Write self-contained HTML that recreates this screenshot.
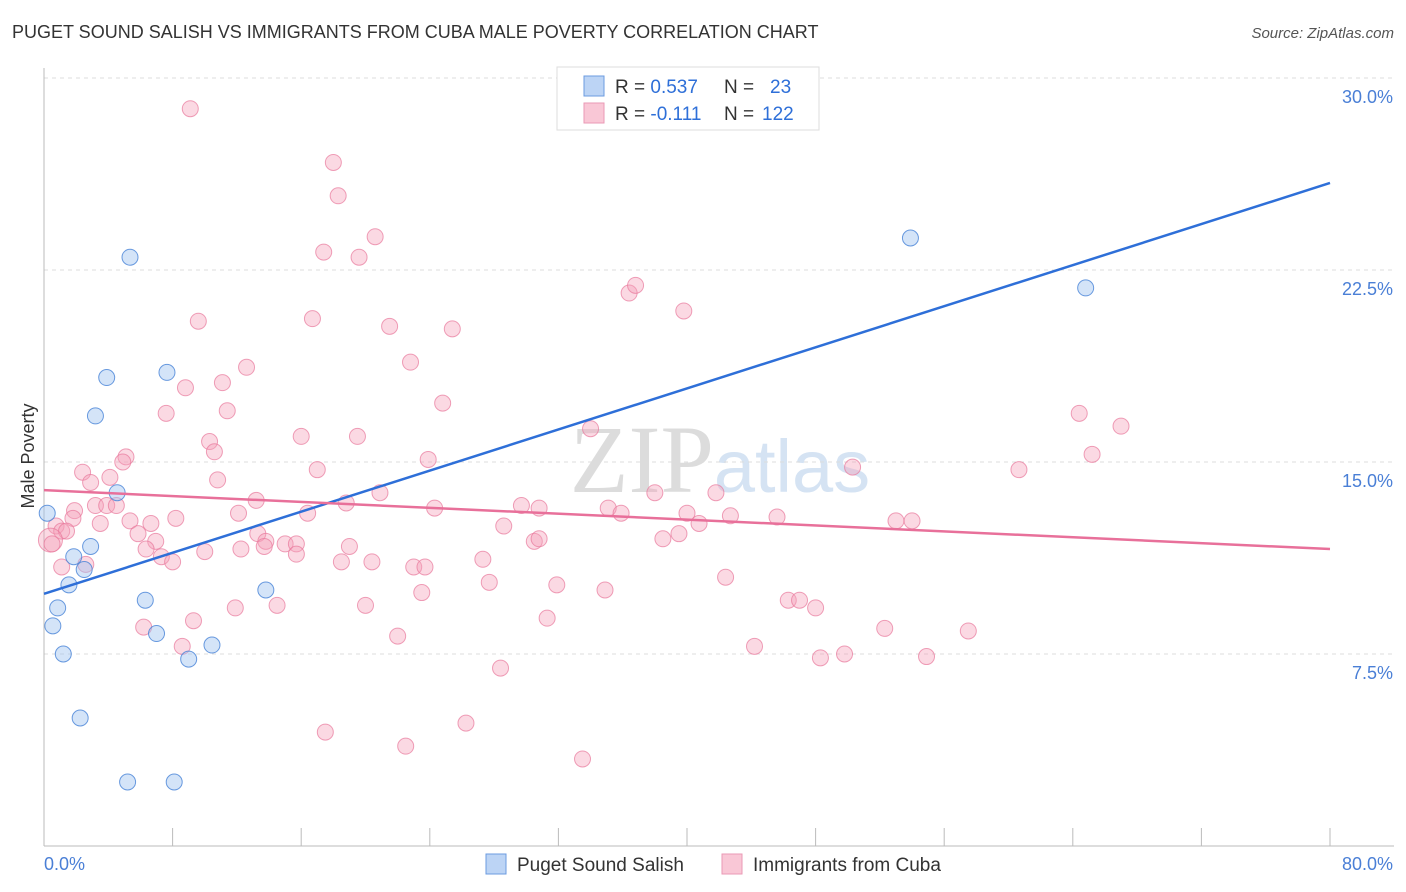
<!DOCTYPE html>
<html><head><meta charset="utf-8">
<style>
body{margin:0;background:#fff;font-family:"Liberation Sans",sans-serif;}
#wrap{position:relative;width:1406px;height:892px;overflow:hidden;}
.t{position:absolute;white-space:nowrap;}
</style></head><body>
<div id="wrap">
<div class="t" style="left:12px;top:22px;font-size:18px;color:#333;">PUGET SOUND SALISH VS IMMIGRANTS FROM CUBA MALE POVERTY CORRELATION CHART</div>
<div class="t" style="right:12px;top:25px;font-size:15px;color:#555;font-style:italic;">Source: ZipAtlas.com</div>
<svg id="svg" width="1406" height="892" style="position:absolute;left:0;top:0"></svg>
</div>
<script>
const yTicks=[7.5,15,22.5,30];
const yTickLabels=["7.5%","15.0%","22.5%","30.0%"];
const xTickLabels=["0.0%","80.0%"];
const blueX=[0.2,5.35,3.9,7.65,3.2,4.55,2.9,1.85,2.5,1.55,0.85,0.55,1.2,6.3,7.0,9.0,10.45,13.8,2.25,5.2,8.1,53.9,64.8];
const blueY=[13.0,23.0,18.3,18.5,16.8,13.8,11.7,11.3,10.8,10.2,9.3,8.6,7.5,9.6,8.3,7.3,7.85,10.0,5.0,2.5,2.5,23.75,21.8];
const pinkX=[9.1,18.0,18.3,20.6,17.4,19.6,9.6,16.7,21.5,25.4,22.8,12.6,11.1,8.8,24.8,11.4,7.6,16.0,19.5,10.3,10.6,5.1,4.9,23.9,2.4,4.1,17.0,10.8,2.9,13.2,18.8,20.9,3.2,3.9,4.5,1.9,1.8,0.75,1.1,1.4,0.4,0.5,3.5,5.35,6.65,8.2,12.1,16.4,13.3,5.85,6.95,13.8,15.0,15.7,13.7,6.35,7.3,8.0,10.0,12.25,15.7,19.0,18.5,20.4,2.6,1.1,23.0,23.7,24.3,29.7,30.8,35.1,35.9,38.0,41.8,28.6,30.5,30.8,38.5,39.5,40.0,40.75,42.7,45.6,27.3,27.7,31.9,34.9,23.5,42.4,20.0,14.5,11.9,9.3,6.2,8.6,22.0,31.3,28.4,46.3,47.0,48.0,44.2,48.3,49.8,52.3,54.9,57.5,17.5,22.5,26.25,33.5,34.0,36.4,36.8,39.8,50.3,53.0,54.0,60.65,64.4,65.2,67.0];
const pinkY=[28.8,26.7,25.4,23.8,23.2,23.0,20.5,20.6,20.3,20.2,18.9,18.7,18.1,17.9,17.3,17.0,16.9,16.0,16.0,15.8,15.4,15.2,15.0,15.1,14.6,14.4,14.7,14.3,14.2,13.5,13.4,13.8,13.3,13.3,13.3,13.1,12.8,12.5,12.3,12.3,11.95,11.8,12.6,12.7,12.6,12.8,13.0,13.0,12.2,12.2,11.9,11.9,11.8,11.8,11.7,11.6,11.3,11.1,11.5,11.6,11.4,11.7,11.1,11.1,11.0,10.9,10.9,10.9,13.2,13.3,13.2,13.2,13.0,13.8,13.8,12.5,11.9,12.0,12.0,12.2,13.0,12.6,12.9,12.85,11.2,10.3,10.2,10.0,9.9,10.5,9.4,9.4,9.3,8.8,8.55,7.8,8.2,8.9,6.95,9.6,9.6,9.3,7.8,7.35,7.5,8.5,7.4,8.4,4.45,3.9,4.8,3.4,16.3,21.6,21.9,20.9,14.8,12.7,12.7,14.7,16.9,15.3,16.4];
const blueFit=[9.85,25.9];
const pinkFit=[13.9,11.6];
const X0=44,X1=1330,Y0=846,Y1=78;
const sx=v=>X0+(v/80)*(X1-X0);
const sy=v=>Y0-(v/30)*(Y0-Y1);
const NS="http://www.w3.org/2000/svg";
const svg=document.getElementById('svg');
function mk(tag,at,txt){const e=document.createElementNS(NS,tag);for(const k in at)e.setAttribute(k,at[k]);if(txt!==undefined)e.textContent=txt;svg.appendChild(e);return e;}
// watermark
let wm=mk('text',{x:720,y:492,'text-anchor':'middle','font-size':96,'font-family':'Liberation Serif, serif',fill:'#e6e6e6'});


wm.innerHTML='<tspan fill="#dcdcdc">ZIP</tspan><tspan fill="#d5e3f3" font-family="Liberation Sans, sans-serif" font-size="74">atlas</tspan>';
// grid
yTicks.forEach((v,i)=>{
 const g=mk('line',{x1:X0,x2:1394,y1:sy(v),y2:sy(v),stroke:'#dcdcdc','stroke-dasharray':'4,4'});
 
 
 const t=mk('text',{x:1393,y:sy(v)+25,'text-anchor':'end','font-size':18,fill:'#4a7fd6'},yTickLabels[i]);
 
 
});
let ax=mk('line',{x1:X0,x2:X0,y1:68,y2:Y0,stroke:'#bbb'});


let bx=mk('line',{x1:X0,x2:1394,y1:Y0,y2:Y0,stroke:'#bbb'});


for(let i=0;i<=10;i++){const x=X0+i*(X1-X0)/10;
 const tk=mk('line',{x1:x,x2:x,y1:Y0,y2:Y0-18,stroke:'#bbb'});
 
 }
let xl0=mk('text',{x:44,y:870,'font-size':18,fill:'#4a7fd6'},xTickLabels[0]);


let xl1=mk('text',{x:1393,y:870,'text-anchor':'end','font-size':18,fill:'#4a7fd6'},xTickLabels[1]);


let yt=mk('text',{x:34,y:456,'text-anchor':'middle','font-size':18,fill:'#333',transform:'rotate(-90 34 456)'},'Male Poverty');


// points
pinkX.forEach((v,i)=>{const c=mk('circle',{cx:sx(v),cy:sy(pinkY[i]),r:i==40?12:8,fill:'rgba(244,160,185,0.4)',stroke:'rgba(232,120,155,0.7)','stroke-width':1});
 
 });
blueX.forEach((v,i)=>{const c=mk('circle',{cx:sx(v),cy:sy(blueY[i]),r:8,fill:'rgba(160,195,240,0.45)',stroke:'rgba(70,130,215,0.8)','stroke-width':1});
 
 });
let bl=mk('line',{x1:sx(0),y1:sy(blueFit[0]),x2:sx(80),y2:sy(blueFit[1]),stroke:'#2e6fd8','stroke-width':2.5});


let pl=mk('line',{x1:sx(0),y1:sy(pinkFit[0]),x2:sx(80),y2:sy(pinkFit[1]),stroke:'#e8709a','stroke-width':2.5});


// legend top
let lg=mk('rect',{x:557,y:67,width:262,height:63,fill:'#fff',stroke:'#ddd'});


[[0,'0.537','23','#bcd4f5','#6b9be0'],[1,'-0.111','122','#f9c7d6','#ea9ab5']].forEach(r=>{
 const y=86+r[0]*27;
 const sw=mk('rect',{x:584,y:y-10,width:20,height:20,fill:r[3],stroke:r[4]});
 
 
 const t=mk('text',{x:615,y:y+7,'font-size':19,fill:'#333'});
 
 
 t.innerHTML='R = <tspan fill="#2e6fd8">'+r[1]+'</tspan><tspan x="724">N = </tspan><tspan x="'+(r[0]?762:770)+'" fill="#2e6fd8">'+r[2]+'</tspan>';
});
// bottom legend
[[486,'Puget Sound Salish','#bcd4f5','#6b9be0'],[722,'Immigrants from Cuba','#f9c7d6','#ea9ab5']].forEach(r=>{
 const sw=mk('rect',{x:r[0],y:854,width:20,height:20,fill:r[2],stroke:r[3]});
 
 
 const t=mk('text',{x:r[0]+31,y:871,'font-size':19,fill:'#333'},r[1]);
 
 
});
</script>
</body></html>
